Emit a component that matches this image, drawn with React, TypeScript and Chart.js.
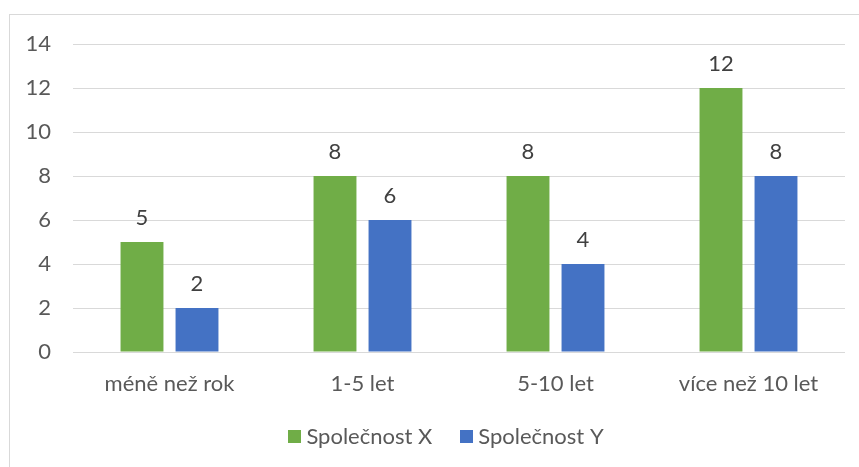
import React, { useEffect, useRef } from "react";
import { Chart, registerables } from "chart.js";

Chart.register(...registerables);

const categories = ["méně než rok", "1-5 let", "5-10 let", "více než 10 let"];
const seriesNames = ["Společnost X", "Společnost Y"];
const companyX = [5, 8, 8, 12];
const companyY = [2, 6, 4, 8];
const yTickMin = 0;
const yTickMax = 14;
const yTickStep = 2;

const FONT_FAMILY = "Lato, 'Open Sans', sans-serif";
const FONT_SIZE = 22;
const AXIS_TEXT = "#595959";
const LABEL_TEXT = "#404040";
const GRID = "#d9d9d9";
const GREEN = "#70ad47";
const BLUE = "#4472c4";

const framePlugin = {
  id: "frame",
  beforeDraw(chart: any) {
    const ctx = chart.ctx;
    ctx.save();
    ctx.fillStyle = "#ffffff";
    ctx.fillRect(0, 0, chart.width, chart.height);
    ctx.strokeStyle = GRID;
    ctx.lineWidth = 1;
    ctx.strokeRect(9.5, 14.5, chart.width + 50, chart.height + 50);
    ctx.restore();
  },
};

const dataLabelPlugin = {
  id: "dataLabels",
  afterDatasetsDraw(chart: any) {
    const ctx = chart.ctx;
    ctx.save();
    ctx.font = `${FONT_SIZE}px ${FONT_FAMILY}`;
    ctx.fillStyle = LABEL_TEXT;
    ctx.textAlign = "center";
    ctx.textBaseline = "alphabetic";
    chart.data.datasets.forEach((ds: any, i: number) => {
      const meta = chart.getDatasetMeta(i);
      meta.data.forEach((el: any, j: number) => {
        ctx.fillText(String(ds.data[j]), el.x, el.y - 17);
      });
    });
    ctx.restore();
  },
};

const LEGEND_CENTER_X = 446;
const LEGEND_Y = 436.5;
const LEGEND_BOX = 13;
const LEGEND_GAP = 5;
const LEGEND_SPACING = 28;

const legendPlugin = {
  id: "customLegend",
  afterDraw(chart: any) {
    const ctx = chart.ctx;
    ctx.save();
    ctx.font = `${FONT_SIZE}px ${FONT_FAMILY}`;
    const items = chart.data.datasets.map((ds: any) => ({
      label: ds.label,
      color: ds.backgroundColor,
      w: ctx.measureText(ds.label).width,
    }));
    const total =
      items.reduce((s: number, it: any) => s + LEGEND_BOX + LEGEND_GAP + it.w, 0) +
      LEGEND_SPACING * (items.length - 1);
    let x = LEGEND_CENTER_X - total / 2;
    ctx.textAlign = "left";
    ctx.textBaseline = "middle";
    items.forEach((it: any) => {
      ctx.fillStyle = it.color;
      ctx.fillRect(Math.round(x), Math.round(LEGEND_Y - LEGEND_BOX / 2), LEGEND_BOX, LEGEND_BOX);
      x += LEGEND_BOX + LEGEND_GAP;
      ctx.fillStyle = AXIS_TEXT;
      ctx.fillText(it.label, x, LEGEND_Y);
      x += it.w + LEGEND_SPACING;
    });
    ctx.restore();
  },
};

export default function App() {
  const ref = useRef<HTMLCanvasElement | null>(null);

  useEffect(() => {
    document.body.style.margin = "0";
    if (!ref.current) return;
    const chart = new Chart(ref.current, {
      type: "bar",
      data: {
        labels: categories,
        datasets: [
          {
            label: seriesNames[0],
            data: companyX,
            backgroundColor: GREEN,
            categoryPercentage: 0.57,
            barPercentage: 0.78,
          },
          {
            label: seriesNames[1],
            data: companyY,
            backgroundColor: BLUE,
            categoryPercentage: 0.57,
            barPercentage: 0.78,
          },
        ],
      },
      options: {
        responsive: false,
        animation: false,
        devicePixelRatio: 1,
        layout: { padding: { left: 0, right: 14, top: 44, bottom: 0 } },
        plugins: {
          legend: { display: false },
          tooltip: { enabled: false },
        },
        scales: {
          x: {
            grid: { display: false, drawTicks: false },
            border: { display: false },
            ticks: {
              color: AXIS_TEXT,
              font: { family: FONT_FAMILY, size: FONT_SIZE },
              padding: 19,
              maxRotation: 0,
            },
            afterFit(scale: any) {
              scale.height = 115;
            },
          },
          y: {
            min: yTickMin,
            max: yTickMax,
            ticks: {
              stepSize: yTickStep,
              color: AXIS_TEXT,
              font: { family: FONT_FAMILY, size: FONT_SIZE },
              padding: 22,
            },
            grid: { color: GRID, lineWidth: 1, drawTicks: false },
            border: { display: false },
            afterFit(scale: any) {
              scale.width = 73;
            },
          },
        },
      },
      plugins: [framePlugin, dataLabelPlugin, legendPlugin],
    } as any);
    return () => chart.destroy();
  }, []);

  return (
    <div style={{ position: "absolute", left: 0, top: 0, width: 859, height: 467, overflow: "hidden" }}>
      <canvas ref={ref} width={859} height={467} style={{ display: "block", width: 859, height: 467 }} />
    </div>
  );
}
